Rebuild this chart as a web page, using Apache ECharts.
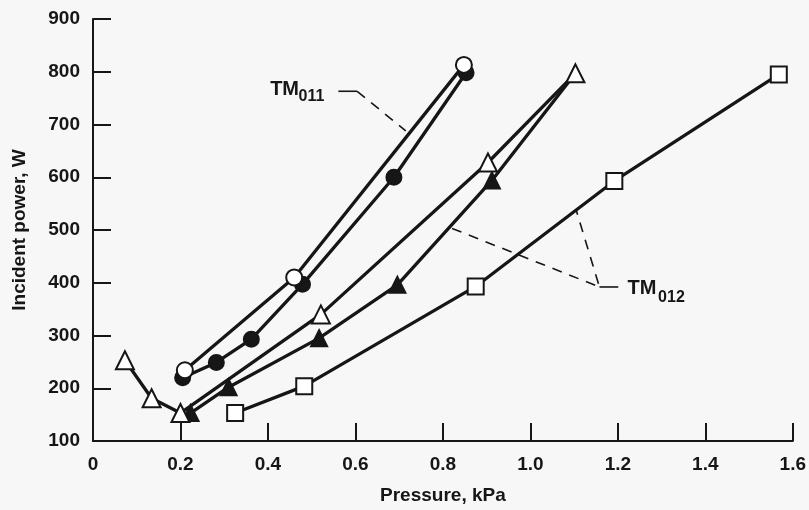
<!DOCTYPE html>
<html>
<head>
<meta charset="utf-8">
<script src="https://cdn.jsdelivr.net/npm/echarts@6/dist/echarts.min.js"></script>
<style>
  html, body { margin: 0; padding: 0; background: #f7f7f7; }
  #chart { width: 809px; height: 510px; }
</style>
</head>
<body>
<div id="chart"></div>
<script>
// pressure (kPa), incident power (W)
var openCircle = [[0.21, 234], [0.46, 410], [0.848, 813]];
var filledCircle = [[0.205, 220], [0.282, 249], [0.362, 293], [0.479, 397], [0.688, 600], [0.853, 798]];
var openTriangle = [[0.073, 253], [0.134, 181], [0.2, 153], [0.521, 340], [0.903, 628], [1.103, 797]];
var filledTriangle = [[0.223, 153], [0.31, 202], [0.517, 295], [0.696, 396], [0.912, 594], [1.103, 797]];
var openSquare = [[0.325, 153], [0.483, 204], [0.875, 393], [1.192, 593], [1.568, 795]];

var xMin = 0, xMax = 1.6, xStep = 0.2;
var yMin = 100, yMax = 900, yStep = 100;

// annotation anchors, in data units
var tm011Label = [0.405, 766], tm011Sub = [0.47, 752];
var tm011Solid = [[0.561, 763], [0.604, 763]];
var tm011Dash = [[0.604, 763], [0.715, 688]];
var tm012Label = [1.222, 390], tm012Sub = [1.292, 371];
var tm012Solid = [[1.158, 392], [1.201, 392]];
var tm012Dash = [[0.821, 503], [1.158, 392], [1.105, 537]];

var ink = '#161616';
var font = 'Liberation Sans, Arial, Helvetica, sans-serif';

var chart = echarts.init(document.getElementById('chart'));

function lineSeries(name, data, symbol, size, fill, z) {
    return {
        name: name,
        type: 'line',
        data: data,
        symbol: symbol,
        symbolSize: size,
        z: z,
        lineStyle: { color: ink, width: 3.3 },
        itemStyle: { color: fill, borderColor: ink, borderWidth: 2, opacity: 1 },
        emphasis: { disabled: true },
        animation: false
    };
}

var option = {
    backgroundColor: '#f7f7f7',
    animation: false,
    grid: { left: 93, right: 14, top: 19, bottom: 66, containLabel: false },
    xAxis: {
        type: 'value',
        min: xMin, max: xMax, interval: xStep,
        name: 'Pressure, kPa',
        nameLocation: 'middle',
        nameGap: 45,
        nameTextStyle: { color: ink, fontSize: 19, fontWeight: 'bold', fontFamily: font },
        axisLine: { show: true, onZero: false, lineStyle: { color: ink, width: 2 } },
        axisTick: { show: true, inside: true, length: 18, lineStyle: { color: ink, width: 2 } },
        axisLabel: {
            color: ink, fontSize: 19, fontWeight: 'bold', fontFamily: font, margin: 14,
            showMinLabel: true, showMaxLabel: true,
            formatter: function (v) { return v === 0 ? '0' : v.toFixed(1); }
        },
        splitLine: { show: false }
    },
    yAxis: {
        type: 'value',
        min: yMin, max: yMax, interval: yStep,
        name: 'Incident power, W',
        nameLocation: 'middle',
        nameGap: 64,
        nameTextStyle: { color: ink, fontSize: 19, fontWeight: 'bold', fontFamily: font },
        axisLine: { show: true, onZero: false, lineStyle: { color: ink, width: 2 } },
        axisTick: { show: true, inside: true, length: 18, lineStyle: { color: ink, width: 2 } },
        axisLabel: { color: ink, fontSize: 19, fontWeight: 'bold', fontFamily: font, margin: 13 },
        splitLine: { show: false }
    },
    series: [
        lineSeries('filled circle', filledCircle, 'circle', 15, ink, 2),
        lineSeries('open circle', openCircle, 'circle', 16, '#ffffff', 3),
        lineSeries('filled triangle', filledTriangle, 'triangle', 16, ink, 2),
        lineSeries('open triangle', openTriangle, 'triangle', 18, '#ffffff', 3),
        lineSeries('open square', openSquare, 'rect', 16, '#ffffff', 3)
    ]
};

chart.setOption(option);

function px(p) { return chart.convertToPixel({ gridIndex: 0 }, p); }
function pts(arr) { return arr.map(px); }
function label(text, at, size) {
    var p = px(at);
    return {
        type: 'text', x: p[0], y: p[1], z: 10,
        style: { text: text, fill: ink, fontSize: size, fontWeight: 'bold', fontFamily: font,
                 align: 'left', verticalAlign: 'middle' }
    };
}
function leader(arr, dashed) {
    return {
        type: 'polyline', z: 5,
        shape: { points: pts(arr) },
        style: { stroke: ink, lineWidth: 1.6, fill: null, lineDash: dashed ? [10, 8] : null }
    };
}

chart.setOption({
    graphic: [
        label('TM', tm011Label, 20),
        label('011', tm011Sub, 16),
        leader(tm011Solid, false),
        leader(tm011Dash, true),
        label('TM', tm012Label, 20),
        label('012', tm012Sub, 16),
        leader(tm012Solid, false),
        leader(tm012Dash, true)
    ]
});
</script>
</body>
</html>
